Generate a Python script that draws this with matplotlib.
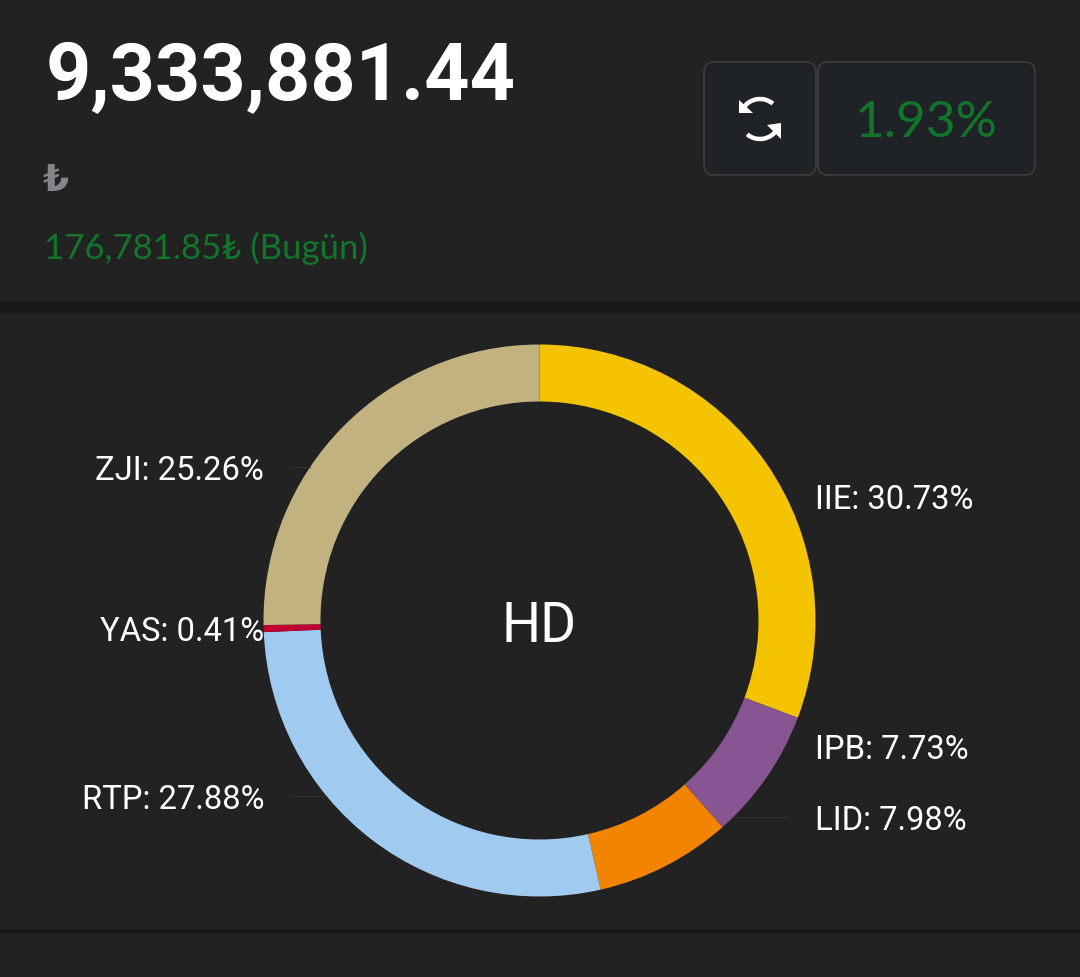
import matplotlib
matplotlib.use("Agg")
import matplotlib.pyplot as plt
from matplotlib.patches import FancyBboxPatch, Rectangle, Arc, Polygon

# donut data, clockwise from 12 o'clock
names = ["IIE", "IPB", "LID", "RTP", "YAS", "ZJI"]
shares = [30.73, 7.73, 7.98, 27.88, 0.41, 25.26]
colors = ["#f4c400", "#875692", "#f38400", "#a1caf1", "#be0032", "#c2b280"]

total_value = "9,333,881.44"
currency = "₺"
day_change = "176,781.85₺ (Bugün)"
day_percent = "1.93%"
center_label = "HD"

BG = "#222222"
BAND = "#181818"
GREEN = "#11752b"
W, H = 1080, 978

fig = plt.figure(figsize=(W / 100, H / 100), dpi=100, facecolor=BG)

# page axes in pixel coordinates, origin top left like the screenshot
page = fig.add_axes([0, 0, 1, 1])
page.set_xlim(0, W)
page.set_ylim(H - 1, -1)
page.axis("off")

page.add_patch(Rectangle((0, 302), W, 11, color=BAND, lw=0))
page.add_patch(Rectangle((0, 929), W, 4, color=BAND, lw=0))

# header
page.text(46, 98, total_value, color="white", fontsize=57, fontweight="bold",
          family=["Roboto", "DejaVu Sans"], va="baseline", ha="left")
page.text(43, 190, currency, color="#85858c", fontsize=27, fontweight="bold",
          family=["DejaVu Sans"], va="baseline", ha="left")
page.text(44, 258, day_change, color=GREEN, fontsize=25,
          family=["Lato", "DejaVu Sans"], va="baseline", ha="left")

# buttons
for x0, x1 in [(704, 816), (818, 1035)]:
    page.add_patch(FancyBboxPatch((x0 + 10, 72), x1 - x0 - 20, 93,
                                  boxstyle="round,pad=10,rounding_size=10",
                                  fc="#1f2226", ec="#3a3a3a", lw=1.4))
page.text(926, 136, day_percent, color=GREEN, fontsize=37, family=["Lato"],
          va="baseline", ha="center")

# refresh icon
page.add_patch(Arc((760, 119), 40, 40, theta1=210, theta2=310, color="white", lw=3.2))
page.add_patch(Arc((760, 119), 40, 40, theta1=30, theta2=130, color="white", lw=3.2))
page.add_patch(Polygon([(739, 100), (739, 113), (753, 113)], color="white", lw=0))
page.add_patch(Polygon([(781, 123), (781, 139), (767, 125)], color="white", lw=0))

# faint leader lines, stopping at the ring
for x0, x1, y in [(292, 310, 467), (292, 326, 796), (733, 787, 817)]:
    page.plot([x0, x1], [y, y], color="#333333", lw=0.8, zorder=1)

# donut
cx, cy, r = 539.5, 621.5, 276
pie_ax = fig.add_axes([(cx - r) / W, 1 - (cy + r) / H, 2 * r / W, 2 * r / H])
pie_ax.pie(shares, colors=colors, startangle=90, counterclock=False, radius=1,
           wedgeprops={"width": 57 / 276, "linewidth": 0})
pie_ax.set_xlim(-1, 1)
pie_ax.set_ylim(-1, 1)
pie_ax.patch.set_alpha(0)

# slice labels, in page coordinates
label_pos = [(815, 508, "left"), (815, 758, "left"), (815, 829, "left"),
             (264, 808, "right"), (264, 640, "right"), (264, 479, "right")]
for name, share, (x, y, ha) in zip(names, shares, label_pos):
    page.text(x, y, f"{name}: {share:.2f}%", color="white", fontsize=23.6,
              family=["Roboto"], va="baseline", ha=ha, zorder=5)
page.set_zorder(2)
page.patch.set_alpha(0)

page.text(539, 641, center_label, color="white", fontsize=39.5, family=["Roboto"],
          va="baseline", ha="center")

fig.savefig("out.png", dpi=100, facecolor=BG)
